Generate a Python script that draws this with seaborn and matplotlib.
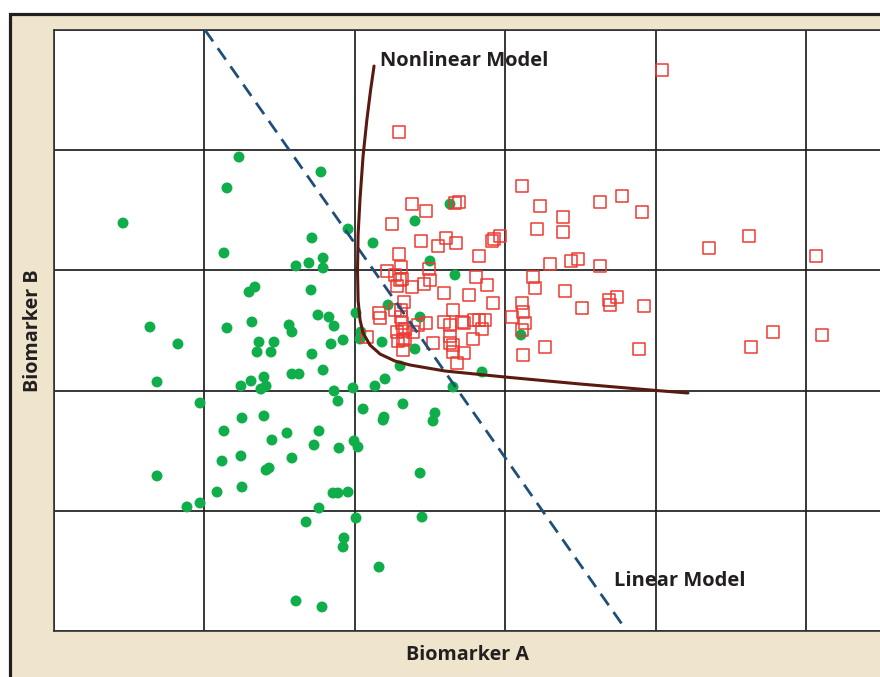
import numpy as np
import pandas as pd
import matplotlib
matplotlib.use("Agg")
import matplotlib.pyplot as plt
import seaborn as sns
from matplotlib.patches import Rectangle

# ---------------- data (arbitrary biomarker units, grid every 10) ----------------
green_x = [12.30, 11.50, 4.59, 11.30, 13.36, 12.97, 13.16, 11.50, 6.38, 17.75,
           19.55, 17.15, 21.21, 17.89, 16.95, 16.09, 17.89, 17.09, 17.55, 18.28,
           18.62, 15.63, 15.82, 20.08, 20.41, 20.35, 19.22, 18.42, 17.15, 17.89,
           21.81, 22.21, 23.01, 26.33, 24.00, 25.00, 26.66, 24.34, 24.00, 31.05,
           28.46, 8.24, 13.63, 14.63, 13.50, 14.43, 6.85, 12.43, 13.10, 13.96,
           14.10, 13.76, 9.71, 12.50, 13.96, 11.30, 14.49, 12.43, 11.17, 14.10,
           14.30, 6.85, 12.50, 10.84, 9.71, 8.84, 15.82, 16.29, 22.01, 21.34,
           19.88, 18.62, 18.88, 23.20, 20.55, 25.33, 25.20, 21.94, 21.88, 26.53,
           15.49, 17.62, 17.29, 18.95, 19.95, 20.21, 15.82, 24.34, 18.55, 18.88,
           19.55, 17.62, 16.76, 20.08, 24.47, 19.28, 19.22, 21.61, 16.09, 17.82]
green_y = [39.43, 36.86, 33.94, 31.45, 28.62, 28.20, 25.71, 25.21, 25.29, 38.19,
           33.44, 32.70, 32.28, 31.03, 30.62, 30.37, 30.20, 28.37, 26.29, 26.12,
           25.37, 25.46, 24.88, 26.46, 24.88, 24.29, 24.21, 23.88, 23.04, 21.71,
           24.04, 27.12, 22.05, 35.52, 34.11, 30.78, 29.62, 26.12, 23.46, 24.63,
           21.55, 23.88, 24.04, 24.04, 23.21, 23.21, 20.72, 20.38, 20.80, 21.13,
           20.38, 20.13, 18.97, 17.72, 17.89, 16.64, 15.89, 14.56, 14.14, 13.39,
           13.56, 12.90, 11.98, 11.56, 10.65, 10.32, 21.38, 21.38, 20.97, 20.38,
           20.22, 19.97, 19.13, 18.89, 18.47, 18.14, 17.47, 17.80, 17.55, 20.30,
           16.47, 16.64, 15.47, 15.22, 15.81, 15.31, 14.39, 13.14, 11.48, 11.48,
           11.56, 10.23, 9.07, 9.40, 9.48, 7.74, 6.99, 5.32, 2.50, 2.00]

red_x = [40.43, 22.94, 31.12, 23.80, 24.73, 26.66, 26.93, 32.31, 24.40, 26.06,
         25.53, 26.73, 29.26, 29.65, 29.12, 32.11, 28.26, 22.94, 24.93, 23.07,
         28.06, 28.79, 31.85, 31.98, 23.14, 23.80, 24.60, 25.00, 25.93, 27.59,
         29.19, 23.27, 26.53, 31.12, 31.18, 30.45, 31.32, 31.12, 23.07, 24.73,
         24.20, 25.93, 26.33, 27.13, 27.26, 27.93, 28.26, 28.66, 28.46, 27.86,
         23.20, 23.87, 26.33, 26.33, 26.53, 25.20, 23.20, 23.20, 26.53, 27.26,
         26.80, 31.18, 22.47, 22.14, 22.67, 23.01, 22.81, 21.61, 21.68, 22.67,
         23.07, 23.14, 22.81, 23.34, 22.87, 23.34, 20.81, 33.84, 36.30, 37.77,
         39.10, 33.84, 43.55, 32.98, 34.38, 34.84, 36.30, 33.98, 35.11, 36.90,
         37.43, 36.97, 39.23, 32.65, 38.90, 46.21, 50.66, 47.81, 46.34, 51.06]
red_y = [46.67, 41.51, 37.02, 35.52, 34.94, 35.61, 35.69, 35.36, 32.45, 32.70,
         32.03, 32.28, 32.61, 32.86, 32.45, 33.44, 31.20, 31.36, 30.12, 30.28,
         29.45, 28.79, 29.45, 28.54, 29.28, 28.62, 28.87, 29.20, 28.12, 27.95,
         27.29, 27.37, 26.71, 27.29, 26.54, 26.12, 25.62, 25.04, 26.12, 25.62,
         25.46, 25.71, 25.46, 25.71, 25.62, 25.87, 25.87, 25.87, 25.12, 24.29,
         24.96, 24.88, 24.54, 23.96, 23.79, 23.96, 24.21, 23.38, 23.21, 23.13,
         22.30, 22.96, 33.86, 29.95, 29.62, 29.20, 28.70, 26.46, 26.04, 26.71,
         26.71, 25.62, 24.88, 25.12, 24.13, 24.29, 24.46, 34.44, 35.69, 36.19,
         34.86, 33.19, 31.86, 30.53, 30.78, 30.95, 30.37, 28.29, 26.87, 27.54,
         27.79, 27.12, 27.04, 23.63, 23.46, 32.86, 31.20, 24.88, 23.63, 24.63]

linear_x = [10.04, 37.90]
linear_y = [50.00, 0.33]

nonlinear_x = [21.28, 21.05, 20.80, 20.55, 20.35, 20.22, 20.18, 20.22, 20.35,
               20.55, 21.01, 21.68, 22.67, 23.67, 26.00, 29.99, 34.97, 40.03, 42.15]
nonlinear_y = [47.00, 45.00, 42.50, 39.50, 36.00, 33.00, 30.00, 27.50, 25.87,
               24.79, 23.79, 23.04, 22.46, 22.13, 21.63, 21.13, 20.55, 20.01, 19.80]

x_label = "Biomarker A"
y_label = "Biomarker B"
linear_label = "Linear Model"
nonlinear_label = "Nonlinear Model"

# ---------------- style ----------------
sns.set_theme(style="white")
plt.rcParams['font.family'] = ['Open Sans', 'DejaVu Sans']

BEIGE = '#EEE5CC'
DARK = '#231F20'
GREEN = '#0FAE4A'
RED = '#EC3B33'
BLUE = '#1F4E78'
BROWN = '#5B1A10'

W, H = 880, 677
fig = plt.figure(figsize=(W / 100, H / 100), dpi=100)
fig.patch.set_facecolor('white')
fig.add_artist(Rectangle((9.5 / W, -0.05), 1.2, (H - 13.5) / H + 0.05,
                         transform=fig.transFigure, facecolor=BEIGE,
                         edgecolor=DARK, linewidth=2.3, zorder=0))

ax = fig.add_axes([54 / W, 46 / H, 827.2 / W, 601 / H])
ax.set_facecolor('white')

green_df = pd.DataFrame({'a': green_x, 'b': green_y})
red_df = pd.DataFrame({'a': red_x, 'b': red_y})
lin_df = pd.DataFrame({'a': linear_x, 'b': linear_y})
nl_df = pd.DataFrame({'a': nonlinear_x, 'b': nonlinear_y})

sns.scatterplot(data=green_df, x='a', y='b', ax=ax, color=GREEN, s=62,
                marker='o', edgecolor='none', linewidth=0, zorder=3)
sns.scatterplot(data=red_df, x='a', y='b', ax=ax, marker='s', s=70,
                facecolor='none', edgecolor=RED, linewidth=1.1, zorder=3)
sns.lineplot(data=lin_df, x='a', y='b', ax=ax, sort=False, estimator=None,
             color=BLUE, linewidth=2.0, zorder=4)
ax.lines[-1].set_dashes([5.0, 3.0])
sns.lineplot(data=nl_df, x='a', y='b', ax=ax, sort=False, estimator=None,
             color=BROWN, linewidth=2.2, zorder=4)

ax.set_xlim(0, 55)
ax.set_ylim(0, 50)
ax.set_xticks(np.arange(0, 55, 10))
ax.set_yticks(np.arange(0, 51, 10))
ax.grid(True, color='#1F1F1F', linewidth=1.25)
ax.set_axisbelow(True)
ax.tick_params(length=0, labelbottom=False, labelleft=False)
for side in ['left', 'bottom', 'top', 'right']:
    ax.spines[side].set_color('#333333')
    ax.spines[side].set_linewidth(1.2)

ax.set_xlabel(x_label, fontsize=14.2, fontweight='bold', color=DARK, labelpad=10)
ax.set_ylabel(y_label, fontsize=14.2, fontweight='bold', color=DARK, labelpad=8)

ax.text(21.68, 47.42, nonlinear_label, fontsize=14.5, fontweight='bold',
        color=DARK, ha='left', va='center', zorder=5)
ax.text(37.23, 4.16, linear_label, fontsize=14.5, fontweight='bold',
        color=DARK, ha='left', va='center', zorder=5)

fig.savefig('out.png', dpi=100, facecolor=fig.get_facecolor())
